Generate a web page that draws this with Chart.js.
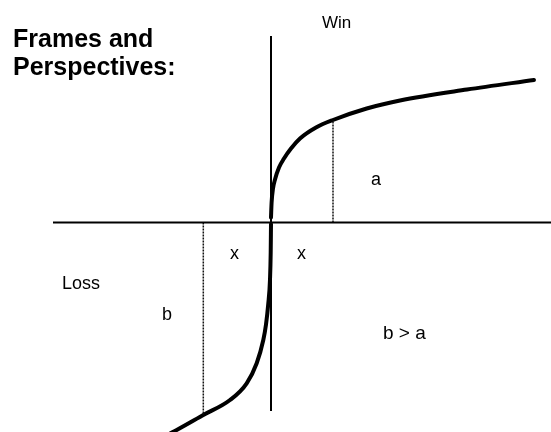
<!DOCTYPE html>
<html>
<head>
<meta charset="utf-8">
<script src="https://cdn.jsdelivr.net/npm/chart.js@4.4.1/dist/chart.umd.min.js"></script>
<style>
  html, body { margin: 0; padding: 0; background: #fff; }
  #wrap { width: 551px; height: 432px; position: relative; }
</style>
</head>
<body>
<div id="wrap"><canvas id="value_function"></canvas></div>
<script>
// value function, origin = reference point
const gain_x = [0, 0.6, 2, 4, 8, 13, 20, 29, 45, 62, 95.7, 129, 196, 263];
const gain_y = [5, 20, 34, 43, 55, 64, 74, 84, 95, 102.5, 114, 122, 133, 142.5];
const loss_x = [-101, -94.3, -67.7, -41, -24.3, -14.3, -7.7, -5, -2.7, -1, -0.3, 0];
const loss_y = [-211, -207.5, -192.5, -177.5, -160.8, -140.8, -117.5, -102, -81, -57, -30, -1.5];

// axes and the x / a / b guide lines
const axis_h_x = [-218, 280];
const axis_v_y = [186.5, -188.5];
const ref_gain = { x: 62, a: 102.5 };
const ref_loss = { x: -67.7, b: -192.5 };

const labels = ['Win', 'a', 'x', 'x', 'Loss', 'b', 'b > a'];
const title_lines = ['Frames and', 'Perspectives:'];

const pts = (xs, ys) => xs.map((x, i) => ({ x, y: ys[i] }));

const solid = (data, width) => ({
  data, borderColor: '#000', borderWidth: width, pointRadius: 0, showLine: true, tension: 0
});
const dotted = (data) => ({
  data, borderColor: '#111', borderWidth: 1.5, borderDash: [2, 1], pointRadius: 0, showLine: true, tension: 0
});
const curve = (data) => ({
  ...solid(data, 4), cubicInterpolationMode: 'monotone', borderCapStyle: 'round'
});

const textPlugin = {
  id: 'texts',
  afterDraw(chart) {
    const ctx = chart.ctx;
    ctx.save();
    ctx.fillStyle = '#000';
    ctx.textAlign = 'left';
    ctx.textBaseline = 'alphabetic';
    ctx.font = 'bold 25px "Liberation Sans", Arial, sans-serif';
    ctx.fillText(title_lines[0], 13, 47);
    ctx.fillText(title_lines[1], 13, 75);
    const spots = [[322, 28, 17], [371, 185, 18], [230, 259, 18], [297, 259, 18],
                   [62, 289, 18], [162, 320, 18], [383, 339, 19]];
    labels.forEach((t, i) => {
      ctx.font = spots[i][2] + 'px "Liberation Sans", Arial, sans-serif';
      ctx.fillText(t, spots[i][0], spots[i][1]);
    });
    ctx.restore();
  }
};

const ctx = document.getElementById('value_function');
new Chart(ctx, {
  type: 'scatter',
  data: {
    datasets: [
      solid(pts(axis_h_x, [0, 0]), 2),
      solid(pts([0, 0], axis_v_y), 2),
      dotted(pts([ref_gain.x, ref_gain.x], [0, ref_gain.a])),
      dotted(pts([ref_loss.x, ref_loss.x], [0, ref_loss.b])),
      curve(pts(gain_x, gain_y)),
      curve(pts(loss_x, loss_y))
    ]
  },
  options: {
    responsive: true,
    maintainAspectRatio: false,
    animation: false,
    layout: { padding: 0 },
    plugins: { legend: { display: false }, tooltip: { enabled: false } },
    scales: {
      x: { type: 'linear', display: false, min: -271, max: 280 },
      y: { type: 'linear', display: false, min: -209.5, max: 222.5 }
    }
  },
  plugins: [textPlugin]
});
</script>
</body>
</html>
